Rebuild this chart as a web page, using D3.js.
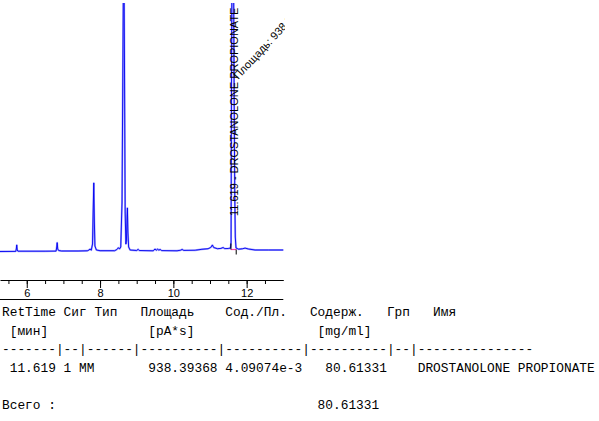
<!DOCTYPE html>
<html><head><meta charset="utf-8">
<script src="https://cdn.jsdelivr.net/npm/d3@7"></script>
<style>html,body{margin:0;padding:0;background:#fff;} svg{display:block;}</style>
</head><body>
<script>
// ---- chromatogram data (time in min, signal in pA) ----
const times = [5.27,5.70,5.715,5.727,5.74,5.76,6.50,6.80,6.815,6.83,6.845,6.87,6.95,7.40,7.65,7.70,7.727,7.76,7.795,7.812,7.829,7.845,7.86,7.90,8.00,8.40,8.46,8.50,8.53,8.565,8.6,8.625,8.647,8.665,8.685,8.705,8.72,8.735,8.746,8.76,8.78,8.82,9.00,9.04,9.07,9.45,9.50,9.535,9.57,9.60,9.64,9.68,10.10,10.20,10.24,10.28,10.60,10.78,10.95,11.02,11.065,11.10,11.20,11.30,11.357,11.40,11.50,11.56,11.575,11.585,11.60,11.619,11.64,11.66,11.675,11.69,11.71,11.78,11.88,11.957,12.05,12.23,12.60,13.00];
const signal = [0.5,0.6,3,7,2,0.8,0.8,0.9,4,9.3,3,1.5,1,1,1.2,2,3,1.8,8,40,69,30,6,2,1.3,1.3,2.5,4.3,3,5,50,200,330,200,40,8,12,32,44,20,5,2,1.5,2.7,1.5,1.2,3,1.8,3,1.8,2.6,1.4,1.2,1.8,2.6,1.6,1.8,2.7,3.3,4.5,7,4.5,3.3,3.6,4.5,3.4,3.5,4,10,150,300,330,300,150,60,15,4,2.8,3.2,3.9,3,2,2,2];

const majorTicks = [6, 8, 10, 12];
const minorTicks = [5.5,6,6.5,7,7.5,8,8.5,9,9.5,10,10.5,11,11.5,12,12.5];

const peakRT = 11.619;
const peakStart = 11.57, peakEnd = 11.715, peakBase = 2.5;
const peakLabel = "11.619 - DROSTANOLONE PROPIONATE";
const areaLabel = "Площадь: 938.39368";

// ---- report table lines ----
const headerLine = "RetTime Сиг Тип   Площадь    Сод./Пл.   Содерж.   Грп   Имя";
const unitsLine  = " [мин]             [pA*s]                [mg/ml]";
const sepLine    = "-------|--|------|----------|----------|----------|--|---------------";
const dataLine   = " 11.619 1 MM       938.39368 4.09074e-3   80.61331    DROSTANOLONE PROPIONATE";
const totalLine  = "Всего :                                  80.61331";
const tableLines = [headerLine, unitsLine, sepLine, dataLine, "", totalLine];

const W = 599, H = 421;
const svg = d3.select("body").append("svg").attr("width", W).attr("height", H);
svg.append("rect").attr("width", W).attr("height", H).attr("fill", "#fff");

const x = d3.scaleLinear().domain([5.27, 13.0]).range([0, 283.3]);
const y = d3.scaleLinear().domain([0, 250]).range([252, 2]);

svg.append("defs").append("clipPath").attr("id", "plotclip")
  .append("rect").attr("x", 0).attr("y", 3).attr("width", 285).attr("height", 300);

const plot = svg.append("g").attr("clip-path", "url(#plotclip)");
const pts = times.map((t, i) => [t, signal[i]]);
const line = d3.line().x(d => x(d[0])).y(d => y(d[1]));

plot.append("path").datum(pts).attr("d", line)
  .attr("fill", "none").attr("stroke", "#a4a4ff").attr("stroke-width", 1.9)
  .attr("stroke-linejoin", "round");
plot.append("path").datum(pts).attr("d", line)
  .attr("fill", "none").attr("stroke", "#0000f0").attr("stroke-width", 0.9);

// baseline marker & peak start/end ticks
plot.append("line")
  .attr("x1", x(peakStart)).attr("x2", x(peakEnd))
  .attr("y1", y(peakBase)).attr("y2", y(peakBase))
  .attr("stroke", "#ff40b0").attr("stroke-width", 1.2);
plot.append("line")
  .attr("x1", x(peakStart)).attr("x2", x(peakStart))
  .attr("y1", y(peakBase)).attr("y2", y(peakBase) - 6)
  .attr("stroke", "#000").attr("stroke-width", 1);
plot.append("line")
  .attr("x1", x(peakEnd)).attr("x2", x(peakEnd))
  .attr("y1", y(peakBase)).attr("y2", y(peakBase) + 5)
  .attr("stroke", "#000").attr("stroke-width", 1);

// annotations
svg.append("text")
  .attr("transform", `translate(${x(peakRT) + 5},216) rotate(-90)`)
  .attr("font-family", "'Liberation Sans', Arial, sans-serif")
  .attr("font-size", 11).attr("fill", "#000")
  .text(peakLabel);
plot.append("text")
  .attr("transform", `translate(${x(peakRT) + 5.5},80) rotate(-47)`)
  .attr("font-family", "'Liberation Sans', Arial, sans-serif")
  .attr("font-size", 11).attr("fill", "#000")
  .text(areaLabel);

// axis
const axisG = svg.append("g").attr("transform", "translate(0,280)");
axisG.append("g").call(d3.axisBottom(x).tickValues(minorTicks).tickSize(4).tickSizeOuter(0).tickFormat(""));
const maj = axisG.append("g").call(d3.axisBottom(x).tickValues(majorTicks).tickSize(8).tickPadding(1).tickSizeOuter(0).tickFormat(d3.format("d")));
maj.select(".domain").remove();
axisG.selectAll("text").attr("font-family", "'Liberation Sans', Arial, sans-serif").attr("font-size", 11).attr("fill", "#000");
axisG.selectAll("line,path").attr("stroke", "#000");

svg.append("line").attr("x1", x.range()[0]).attr("x2", x.range()[1])
  .attr("y1", 299.5).attr("y2", 299.5).attr("stroke", "#000");

// table
const tbl = svg.append("g")
  .attr("font-family", "'Liberation Mono', 'DejaVu Sans Mono', monospace")
  .attr("font-size", 12.83).attr("fill", "#000");
tbl.selectAll("text").data(tableLines).join("text")
  .attr("x", 2).attr("y", (d, i) => 316 + i * 18.6)
  .attr("xml:space", "preserve").style("white-space", "pre")
  .text(d => d);
</script>
</body></html>
